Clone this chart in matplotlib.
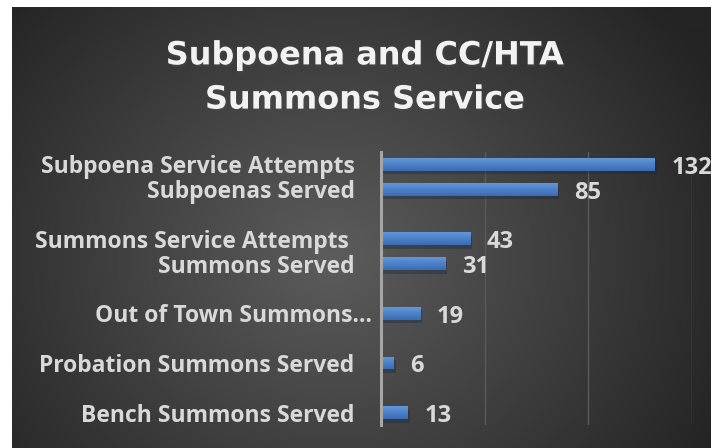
import matplotlib.pyplot as plt
import matplotlib.patheffects as pe
from matplotlib.colors import LinearSegmentedColormap
from matplotlib.transforms import ScaledTranslation
import numpy as np

# data (blank rows kept as in the source sheet)
categories = ["Subpoena Service Attempts", "Subpoenas Served", "",
              "Summons Service Attempts ", "Summons Served", "",
              "Out of Town Summons\u2026", "",
              "Probation Summons Served", "",
              "Bench Summons Served"]
values = [132, 85, np.nan, 43, 31, np.nan, 19, np.nan, 6, np.nan, 13]
title = "Subpoena and CC/HTA\nSummons Service"

W, H = 711, 448
fig = plt.figure(figsize=(W / 100, H / 100), dpi=100, facecolor="white")

# dark radial background
bg = fig.add_axes([12 / W, 0, (W - 12) / W, (H - 7) / H])
yy, xx = np.mgrid[0:H - 7, 0:W - 12]
d = np.sqrt(((xx - 320) / 1.0) ** 2 + ((yy - 250) / 0.9) ** 2)
v = 92 - (92 - 36) * np.clip(d / 430, 0, 1)
img = np.dstack([v, v, v]) / 255.0
bg.imshow(img, aspect="auto", extent=[0, 1, 0, 1])
bg.set_axis_off()

fig.text(365 / W, 1 - 78 / H, title, ha="center", va="center",
         fontsize=23, fontweight="bold", family="DejaVu Sans",
         color="#f2f2f2", linespacing=1.55,
         path_effects=[pe.withSimplePatchShadow(offset=(1, -1.5), alpha=0.5)])

ax = fig.add_axes([381 / W, 1 - 425 / H, (692 - 381) / W, (425 - 152) / H])
ax.patch.set_alpha(0)
ypos = np.arange(len(categories))
bars = ax.barh(ypos, np.nan_to_num(values), height=0.52, color="#4a7fc6", zorder=3)

cmap = LinearSegmentedColormap.from_list("blu", ["#6197dc", "#3b6cb3"])
grad = np.linspace(0, 1, 40).reshape(-1, 1)
for b, val in zip(bars, values):
    if np.isnan(val):
        b.set_visible(False)
        continue
    b.set_path_effects([pe.SimplePatchShadow(offset=(1.5, -2.5), alpha=0.35), pe.Normal()])
    y0 = b.get_y()
    h = b.get_height()
    im = ax.imshow(grad, extent=[0, val, y0 + h, y0], aspect="auto",
                   cmap=cmap, zorder=4)
    im.set_clip_path(b)
    ax.annotate(f"{val:g}", (val, b.get_y() + h / 2), xytext=(12, -2.5),
                textcoords="offset points", ha="left", va="center",
                fontsize=17, fontweight="bold", family="Open Sans",
                color="#d9d9d9", annotation_clip=False)

ax.set_xlim(0, 150)
ax.set_ylim(len(categories) - 0.5, -0.5)
ax.set_aspect("auto")
ax.set_xticks([0, 50, 100, 150])
ax.xaxis.grid(True, color="#5a5a5a", lw=1, zorder=0)
ax.tick_params(axis="x", length=0, labelbottom=False)
ax.set_yticks(ypos)
ax.set_yticklabels(categories, fontsize=16.5, fontweight="bold",
                   family="Open Sans", color="#d9d9d9")
ax.tick_params(axis="y", length=0, pad=19)
for lab in ax.get_yticklabels():
    if lab.get_text().endswith("\u2026"):
        lab.set_transform(lab.get_transform() + ScaledTranslation(17 / 100, 0, fig.dpi_scale_trans))
for s in ["top", "right", "bottom"]:
    ax.spines[s].set_visible(False)
ax.spines["left"].set_color("#a6a6a6")
ax.spines["left"].set_linewidth(2.2)
ax.spines["left"].set_zorder(5)

fig.savefig("out.png", dpi=100, facecolor="white")
